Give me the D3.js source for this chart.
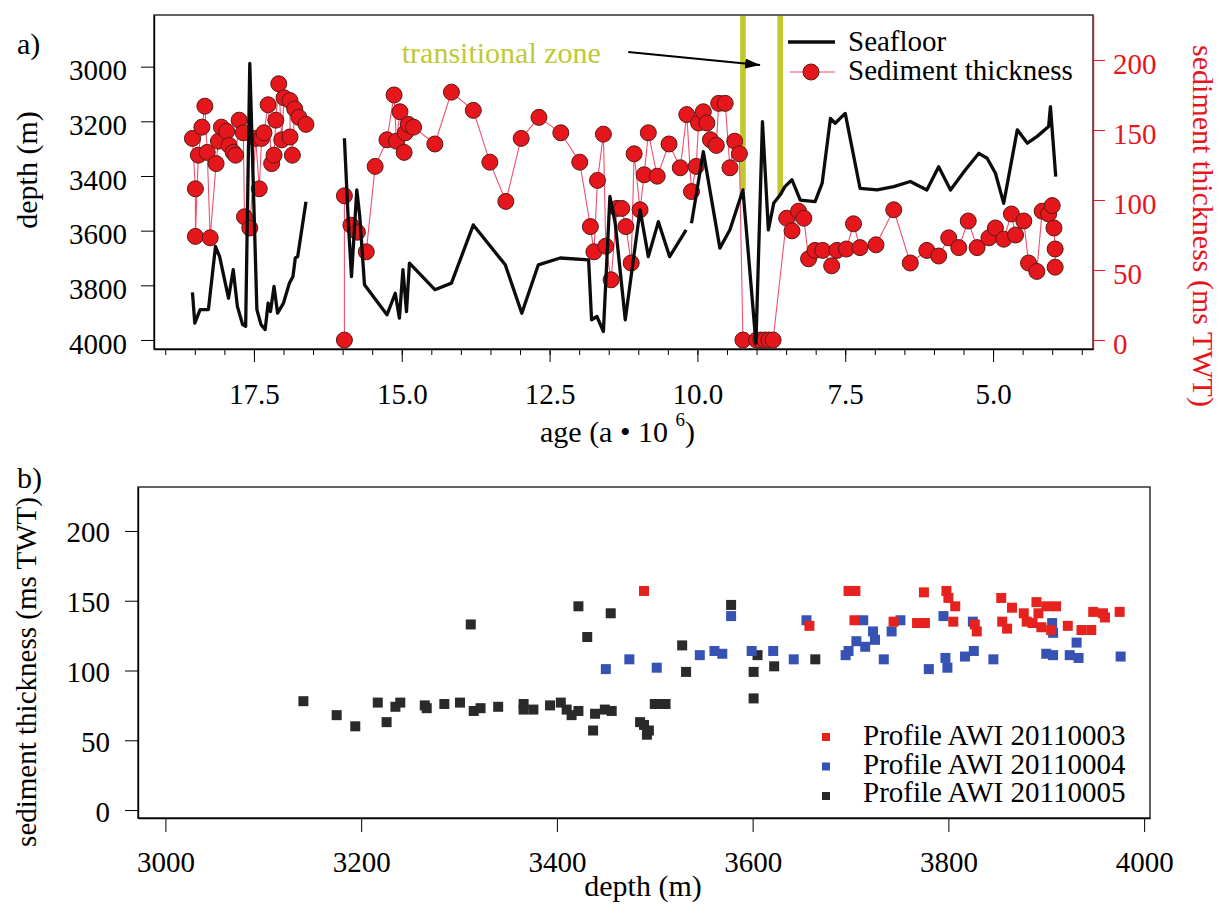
<!DOCTYPE html>
<html>
<head>
<meta charset="utf-8">
<script src="https://cdn.jsdelivr.net/npm/d3@7"></script>
<style>
body { margin: 0; background: #fff; }
text { font-family: "Liberation Serif", "Times New Roman", serif; }
.tick text { font-size: 29px; }
</style>
</head>
<body>
<div id="chart"></div>
<script>
// ---- panel a: seafloor depth and sediment thickness against age (null = break in the line)
var seafloorAge = [18.54, 18.50, 18.41, 18.27, 18.15, 18.08, 17.93, 17.85, 17.78, 17.69, 17.64, 17.57, 17.45, 17.38, 17.31, 17.26, 17.22, 17.16, 17.10, 17.00, 16.90, 16.84, 16.80, 16.76, 16.62,
    null,
    15.97, 15.90, 15.85, 15.76, 15.71, 15.63, 15.25, 15.11, 15.04, 14.98, 14.92, 14.87, 14.44, 14.16, 13.79, 13.25, 12.97, 12.69, 12.32, 11.84, 11.79, 11.70, 11.59, 11.48, 11.39, 11.22, 10.97, 10.83, 10.66, 10.47, 10.19,
    null,
    10.10, 9.90, 9.62, 9.45, 9.23, 9.01, 8.90, 8.80, 8.71, 8.60, 8.52, 8.40, 8.26, 8.01, 7.89, 7.75, 7.67, 7.50, 7.25, 6.96, 6.68, 6.40, 6.12, 5.92, 5.72, 5.47, 5.24, 5.10, 4.96, 4.82, 4.59, 4.42, 4.26, 4.06, 4.03, 3.94];
var seafloorDepth = [3826, 3938, 3889, 3889, 3658, 3695, 3847, 3743, 3877, 3944, 3950, 2988, 3889, 3944, 3962, 3865, 3896, 3804, 3902, 3865, 3792, 3768, 3700, 3695, 3494,
    null,
    3262, 3585, 3768, 3451, 3548, 3798, 3908, 3829, 3920, 3743, 3896, 3719, 3816, 3792, 3579, 3725, 3902, 3725, 3700, 3707, 3926, 3914, 3969, 3475, 3573, 3926, 3524, 3695, 3567, 3695, 3597,
    null,
    3573, 3311, 3664, 3597, 3451, 4011, 3201, 3597, 3500, 3469, 3439, 3414, 3488, 3494, 3426, 3189, 3207, 3171, 3445, 3451, 3439, 3420, 3451, 3366, 3451, 3378, 3317, 3335, 3390, 3500, 3231, 3280, 3256, 3219, 3146, 3402];

var sedAge = [18.54, 18.49, 18.49, 18.44, 18.38, 18.33, 18.29, 18.24, 18.14, 18.10, 18.05, 17.96, 17.92, 17.85, 17.81, 17.75, 17.68, 17.66, 17.57, 17.47, 17.41, 17.37, 17.33, 17.26, 17.20, 17.16, 17.13, 17.08, 17.03, 16.99, 16.89, 16.89, 16.85, 16.81, 16.74, 16.62,
    null,
    15.97, 15.97, 15.86, 15.75, 15.60, 15.45, 15.25, 15.13, 15.09, 15.03, 14.96, 14.94, 14.89, 14.80, 14.44, 14.16, 13.79, 13.51, 13.24, 12.98, 12.68, 12.31, 11.99, 11.81, 11.75, 11.69, 11.59, 11.55, 11.46, 11.36, 11.28, 11.21, 11.12, 11.07, 10.97, 10.90, 10.83, 10.68, 10.48, 10.29, 10.18, 10.10, 10.02, 9.98, 9.90, 9.84, 9.78, 9.68, 9.64, 9.53, 9.45, 9.37, 9.29,
    9.23, 9.00, 8.93, 8.86, 8.79, 8.72,
    8.49, 8.40, 8.29, 8.20, 8.12, 8.01, 7.88, 7.73, 7.64, 7.48, 7.36, 7.25, 6.98, 6.68, 6.40, 6.12, 5.92, 5.75, 5.58, 5.42, 5.27, 5.07, 4.96, 4.82, 4.69, 4.62, 4.48, 4.40, 4.26, 4.17, 4.06, 4.00, 3.97, 3.95, 3.95];
var sedThick = [144, 108, 74, 132, 152, 167, 134, 73, 126, 142, 152, 149, 139, 134, 132, 157, 148, 88, 80, 144, 108, 144, 148, 168, 126, 132, 157, 183, 143, 173, 171, 145, 132, 165, 159, 154,
    null,
    0, 103, 82, 77, 63, 124, 143, 175, 142, 163, 134, 148, 154, 152, 140, 177, 164, 127, 99, 144, 159, 148, 127, 81, 63, 114, 147, 67, 43, 94, 94, 81, 55, 133, 93, 118, 148, 117, 140, 123, 161, 106, 124, 155, 163, 155, 143, 139, 169, 169, 123, 142, 133,
    0, 0, 0, 0, 0, 0,
    87, 78, 92, 87, 58, 64, 64, 53, 64, 65, 83, 66, 68, 93, 55, 64, 60, 73, 66, 85, 66, 73, 80, 72, 90, 75, 85, 55, 49, 92, 90, 96, 80, 65, 52];

// transitional zone bars: age, depth where the bar stops
var zoneAge = [9.23, 8.60];
var zoneDepth = [3451, 3469];

var depthTicks = [3000, 3200, 3400, 3600, 3800, 4000];
var thickTicks = [0, 50, 100, 150, 200];
var ageTicks = [17.5, 15.0, 12.5, 10.0, 7.5, 5.0];
var ageMinorTicks = [19.0, 18.5, 18.0, 17.5, 17.0, 16.5, 16.0, 15.5, 15.0, 14.5, 14.0, 13.5, 13.0, 12.5, 12.0, 11.5, 11.0, 10.5, 10.0, 9.5, 9.0, 8.5, 8.0, 7.5, 7.0, 6.5, 6.0, 5.5, 5.0, 4.5, 4.0, 3.5];

// ---- panel b: sediment thickness against seafloor depth, three profiles
var profileNames = ['Profile AWI 20110003', 'Profile AWI 20110004', 'Profile AWI 20110005'];
var profileColors = ['#e6221e', '#3653b3', '#2a2a2a'];

var p3Depth = [3489, 3658, 3698, 3705, 3704, 3744, 3768, 3776, 3775, 3798, 3800, 3807, 3805, 3829, 3827, 3854, 3855, 3860, 3865, 3877, 3880, 3886, 3890, 3892, 3895, 3900, 3910, 3905, 3922, 3936, 3946, 3948, 3958, 3960, 3975];
var p3Thick = [157, 132, 157, 157, 136, 135, 134, 134, 156, 157, 152, 146, 135, 128, 133, 152, 135, 130, 145, 141, 135, 134, 149, 141, 131, 146, 146, 129, 132, 129, 129, 142, 141, 138, 142];

var p4Depth = [3450, 3474, 3502, 3546, 3561, 3569, 3578, 3599, 3621, 3642, 3655, 3695, 3698, 3706, 3713, 3715, 3723, 3725, 3734, 3742, 3751, 3780, 3795, 3797, 3799, 3817, 3826, 3825, 3846, 3900, 3907, 3906, 3907, 3924, 3931, 3933, 3976];
var p4Thick = [101, 108, 102, 111, 114, 112, 139, 114, 114, 108, 136, 111, 114, 121, 136, 117, 128, 122, 108, 128, 136, 101, 139, 109, 102, 110, 114, 135, 108, 112, 111, 134, 127, 111, 120, 109, 110];

var p5Depth = [3141, 3175, 3194, 3217, 3226, 3235, 3240, 3265, 3267, 3285, 3301, 3312, 3315, 3322, 3340, 3366, 3366, 3376, 3393, 3404, 3410, 3415, 3422, 3422, 3431, 3437, 3439, 3449, 3455, 3456, 3485, 3489, 3492, 3494, 3500, 3506, 3511, 3528, 3532, 3578, 3601, 3601, 3605, 3622, 3664];
var p5Thick = [78, 68, 60, 77, 63, 74, 77, 75, 73, 76, 77, 133, 71, 73, 74, 76, 72, 72, 75, 77, 72, 68, 71, 146, 124, 57, 69, 72, 141, 71, 63, 61, 54, 57, 76, 76, 76, 118, 99, 147, 99, 80, 111, 103, 108];

var depthTicksB = [3000, 3200, 3400, 3600, 3800, 4000];
var thickTicksB = [0, 50, 100, 150, 200];

var width = 1223, height = 904;
var frameA = {left: 154, right: 1093, top: 15, bottom: 349};
var frameB = {left: 138, right: 1150, top: 487, bottom: 818};

var svg = d3.select('#chart').append('svg')
    .attr('width', width)
    .attr('height', height)
    .style('background', '#fff');

var xAge = d3.scaleLinear().domain([19.19, 3.31]).range([frameA.left, frameA.right]);
var yDepth = d3.scaleLinear().domain([2811, 4033]).range([frameA.top, frameA.bottom]);
var yThick = d3.scaleLinear().domain([-6.4, 232.1]).range([frameA.bottom, frameA.top]);

var xDepth = d3.scaleLinear().domain([2972, 4006]).range([frameB.left, frameB.right]);
var yThickB = d3.scaleLinear().domain([-5.7, 231.5]).range([frameB.bottom, frameB.top]);

var seafloor = seafloorAge.map((a, i) => ({age: a, v: seafloorDepth[i]}));
var sediment = sedAge.map((a, i) => ({age: a, v: sedThick[i]}));

// ---------- panel a
svg.append('rect')
    .attr('x', frameA.left).attr('y', frameA.top)
    .attr('width', frameA.right - frameA.left).attr('height', frameA.bottom - frameA.top)
    .attr('fill', 'none').attr('stroke', '#222').attr('stroke-width', 1.4);

svg.selectAll('rect.zone')
    .data(zoneAge)
    .enter()
    .append('rect')
    .attr('class', 'zone')
    .attr('x', d => xAge(d) - 2.8)
    .attr('width', 5.6)
    .attr('y', frameA.top + 1)
    .attr('height', (d, i) => yDepth(zoneDepth[i]) - frameA.top - 1)
    .attr('fill', '#c3c92c');

svg.append('path')
    .datum(sediment)
    .attr('fill', 'none')
    .attr('stroke', '#f0506e')
    .attr('stroke-width', 1.1)
    .attr('d', d3.line().defined(d => d.v != null).x(d => xAge(d.age)).y(d => yThick(d.v)));

svg.selectAll('circle.sed')
    .data(sediment.filter(d => d.v != null))
    .enter()
    .append('circle')
    .attr('class', 'sed')
    .attr('cx', d => xAge(d.age))
    .attr('cy', d => yThick(d.v))
    .attr('r', 8)
    .attr('fill', '#e5161c')
    .attr('stroke', '#5a1a14')
    .attr('stroke-width', 1);

svg.append('path')
    .datum(seafloor)
    .attr('fill', 'none')
    .attr('stroke', '#0c0c0c')
    .attr('stroke-width', 3.3)
    .attr('stroke-linejoin', 'round')
    .attr('d', d3.line().defined(d => d.v != null).x(d => xAge(d.age)).y(d => yDepth(d.v)));

var axLeftA = svg.append('g')
    .attr('transform', `translate(${frameA.left},0)`)
    .call(d3.axisLeft(yDepth).tickValues(depthTicks).tickSize(13).tickPadding(14).tickFormat(d3.format('d')).tickSizeOuter(0));
axLeftA.selectAll('text').attr('dy', '0.45em');

var axRightA = svg.append('g')
    .attr('transform', `translate(${frameA.right},0)`)
    .call(d3.axisRight(yThick).tickValues(thickTicks).tickSize(12).tickPadding(8).tickFormat(d3.format('d')).tickSizeOuter(0));
axRightA.selectAll('text').attr('dy', '0.45em').attr('fill', '#e8141c');
axRightA.selectAll('line').attr('stroke', '#e8141c');
axRightA.select('.domain').attr('stroke', '#e8141c');

svg.append('g')
    .attr('transform', `translate(0,${frameA.bottom})`)
    .call(d3.axisBottom(xAge).tickValues(ageMinorTicks).tickSize(6).tickFormat('').tickSizeOuter(0))
    .select('.domain').remove();

svg.append('g')
    .attr('transform', `translate(0,${frameA.bottom})`)
    .call(d3.axisBottom(xAge).tickValues(ageTicks).tickSize(13).tickPadding(21).tickFormat(d3.format('.1f')).tickSizeOuter(0));

// annotation
var defs = svg.append('defs');
defs.append('marker')
    .attr('id', 'arrow')
    .attr('markerUnits', 'userSpaceOnUse')
    .attr('markerWidth', 16).attr('markerHeight', 11)
    .attr('refX', 15).attr('refY', 5)
    .attr('orient', 'auto')
    .append('path')
    .attr('d', 'M0,0L15,5L0,10Z')
    .attr('fill', '#000');

svg.append('text')
    .attr('x', xAge(15.0)).attr('y', yDepth(2986))
    .attr('font-size', 30)
    .attr('fill', '#bfc936')
    .text('transitional zone');

svg.append('line')
    .attr('x1', xAge(11.17)).attr('y1', yDepth(2946))
    .attr('x2', xAge(8.94)).attr('y2', yDepth(2994))
    .attr('stroke', '#000').attr('stroke-width', 2)
    .attr('marker-end', 'url(#arrow)');

// legend a
var legA = svg.append('g');
legA.append('line').attr('x1', 788).attr('x2', 835).attr('y1', 42).attr('y2', 42)
    .attr('stroke', '#0c0c0c').attr('stroke-width', 3.3);
legA.append('text').attr('x', 848).attr('y', 51).attr('font-size', 29).text('Seafloor');
legA.append('line').attr('x1', 790).attr('x2', 835).attr('y1', 72).attr('y2', 72)
    .attr('stroke', '#f0506e').attr('stroke-width', 1.1);
legA.append('circle').attr('cx', 811).attr('cy', 72).attr('r', 8)
    .attr('fill', '#e5161c').attr('stroke', '#5a1a14');
legA.append('text').attr('x', 848).attr('y', 80).attr('font-size', 29).text('Sediment thickness');

// labels a
svg.append('text').attr('x', 17).attr('y', 54).attr('font-size', 30).text('a)');
svg.append('text')
    .attr('transform', 'translate(37,170) rotate(-90)')
    .attr('text-anchor', 'middle').attr('font-size', 30)
    .text('depth (m)');
svg.append('text')
    .attr('transform', 'translate(1193,226) rotate(90)')
    .attr('text-anchor', 'middle').attr('font-size', 30)
    .attr('fill', '#e8141c')
    .text('sediment thickness (ms TWT)');

var ageLabel = svg.append('text').attr('x', 540).attr('y', 442).attr('font-size', 30);
ageLabel.append('tspan').text('age (a \u2022 10 ');
ageLabel.append('tspan').attr('font-size', 19).attr('dy', -16).text('6');
ageLabel.append('tspan').attr('dy', 16).text(')');

// ---------- panel b
svg.append('rect')
    .attr('x', frameB.left).attr('y', frameB.top)
    .attr('width', frameB.right - frameB.left).attr('height', frameB.bottom - frameB.top)
    .attr('fill', 'none').attr('stroke', '#222').attr('stroke-width', 1.4);

var profiles = [
    {depth: p5Depth, thick: p5Thick, color: profileColors[2]},
    {depth: p4Depth, thick: p4Thick, color: profileColors[1]},
    {depth: p3Depth, thick: p3Thick, color: profileColors[0]}
];

var sq = 10;
profiles.forEach(p => {
    svg.append('g')
        .selectAll('rect')
        .data(p.depth.map((d, i) => ({depth: d, thick: p.thick[i]})))
        .enter()
        .append('rect')
        .attr('x', d => xDepth(d.depth) - sq / 2)
        .attr('y', d => yThickB(d.thick) - sq / 2)
        .attr('width', sq)
        .attr('height', sq)
        .attr('fill', p.color);
});

var axLeftB = svg.append('g')
    .attr('transform', `translate(${frameB.left},0)`)
    .call(d3.axisLeft(yThickB).tickValues(thickTicksB).tickSize(13).tickPadding(15).tickFormat(d3.format('d')).tickSizeOuter(0));
axLeftB.selectAll('text').attr('dy', '0.38em');

svg.append('g')
    .attr('transform', `translate(0,${frameB.bottom})`)
    .call(d3.axisBottom(xDepth).tickValues(depthTicksB).tickSize(14).tickPadding(19).tickFormat(d3.format('d')).tickSizeOuter(0));

svg.selectAll('.domain').attr('stroke-width', 1.4);

// legend b
var legB = svg.append('g');
profileNames.forEach((name, i) => {
    legB.append('rect')
        .attr('x', 822).attr('y', 733 + i * 29.5)
        .attr('width', 8).attr('height', 8)
        .attr('fill', profileColors[i]);
    legB.append('text')
        .attr('x', 863).attr('y', 745 + i * 28.5)
        .attr('font-size', 29)
        .text(name);
});

svg.append('text').attr('x', 17).attr('y', 488).attr('font-size', 30).text('b)');
svg.append('text')
    .attr('transform', 'translate(36,672) rotate(-90)')
    .attr('text-anchor', 'middle').attr('font-size', 29)
    .text('sediment thickness (ms TWT)');
svg.append('text')
    .attr('x', 643).attr('y', 896)
    .attr('text-anchor', 'middle').attr('font-size', 30)
    .text('depth (m)');
</script>
</body>
</html>
